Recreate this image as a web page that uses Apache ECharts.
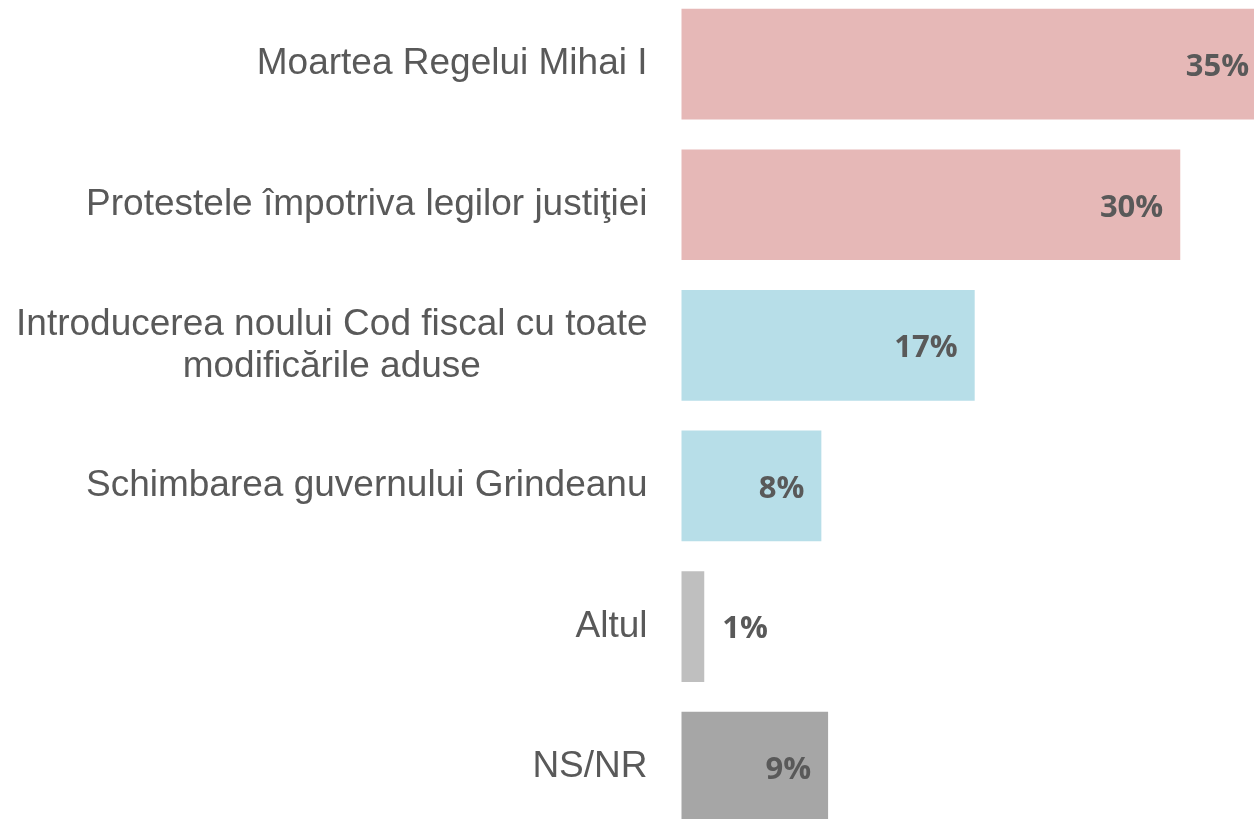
<!DOCTYPE html>
<html>
<head>
<meta charset="utf-8">
<script src="https://cdn.jsdelivr.net/npm/echarts@6/dist/echarts.min.js"></script>
<style>
  html, body { margin: 0; padding: 0; background: #fff; }
  #main { width: 1254px; height: 819px; }
</style>
</head>
<body>
<div id="main"></div>
<script>
// date
var categories = [
    'Moartea Regelui Mihai I',
    'Protestele împotriva legilor justiţiei',
    'Introducerea noului Cod fiscal cu toate\nmodificările aduse',
    'Schimbarea guvernului Grindeanu',
    'Altul',
    'NS/NR'
];
var values = [34.7, 29.6, 17.4, 8.3, 1.35, 8.7];
var barColors = ['#e6b8b7', '#e6b8b7', '#b7dee8', '#b7dee8', '#bfbfbf', '#a6a6a6'];

var myChart = echarts.init(document.getElementById('main'));

var seriesData = values.map(function (v, i) {
    var item = { value: v, itemStyle: { color: barColors[i] } };
    if (v < 3) {
        // bara prea mica, eticheta in afara
        item.label = { position: 'right', distance: 18 };
    }
    return item;
});

option = {
    animation: false,
    grid: {
        left: 681.5,
        top: -6.15,
        width: 606.6,
        height: 843.6,
        outerBoundsMode: 'none',
        containLabel: false
    },
    xAxis: {
        type: 'value',
        min: 0,
        max: 36,
        show: false,
        splitLine: { show: false }
    },
    yAxis: {
        type: 'category',
        inverse: true,
        data: categories,
        axisLine: { show: false },
        axisTick: { show: false },
        axisLabel: {
            margin: 34,
            align: 'right',
            formatter: function (val) {
                return val.split('\n').map(function (l) {
                    return '{c|' + l + '}';
                }).join('\n');
            },
            rich: {
                c: {
                    align: 'center',
                    fontFamily: 'Liberation Sans',
                    fontSize: 37,
                    lineHeight: 42,
                    color: '#595959'
                }
            }
        }
    },
    series: [{
        type: 'bar',
        data: seriesData,
        barCategoryGap: '21.3%',
        label: {
            show: true,
            position: 'insideRight',
            distance: 17,
            offset: [0, 3],
            fontFamily: 'Open Sans',
            fontWeight: 'bold',
            fontSize: 31,
            color: '#595959',
            formatter: function (params) {
                return Math.round(params.value) + '%';
            }
        }
    }]
};
myChart.setOption(option);
window.addEventListener("resize", function () {
    myChart.resize();
});
</script>
</body>
</html>
